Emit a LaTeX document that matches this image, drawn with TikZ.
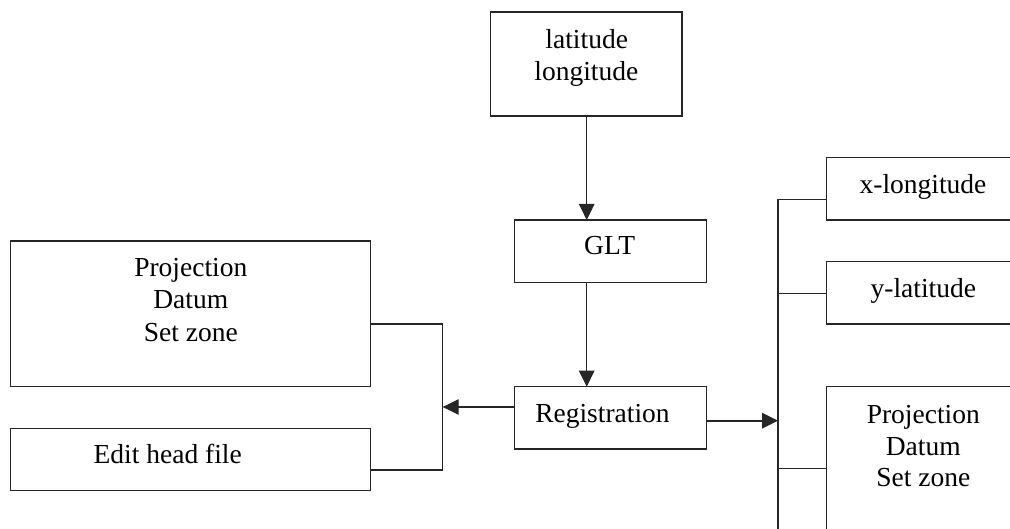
\documentclass[tikz,border=0pt]{standalone}
\usepackage{fontspec}
\setmainfont{Liberation Serif}
\usetikzlibrary{arrows.meta}

\begin{document}
\begin{tikzpicture}[x=1bp, y=-1bp,
  box/.style={draw=black!85, line width=1.1bp, rectangle, inner sep=0pt, outer sep=0pt},
  lbl/.style={inner sep=0pt, anchor=base, font=\fontsize{27.5bp}{33bp}\selectfont},
  link/.style={draw=black!85, line width=1.1bp},
  arr/.style={link, -{Triangle[length=16bp, width=15.5bp]}},
  busline/.style={draw=black!85, line width=1.5bp}]
  \useasboundingbox (0,0) rectangle (1010,529);
  \clip (0,0) rectangle (1010,529);

  % boxes
  \node[box, minimum width=191.3bp, minimum height=104bp]  (lat)   at (586.35,64) {};
  \node[box, minimum width=192.4bp, minimum height=62.3bp] (glt)   at (610.5,251.15) {};
  \node[box, minimum width=192.4bp, minimum height=62.3bp] (reg)   at (610.5,417.85) {};
  \node[box, minimum width=360bp,   minimum height=145.7bp] (projL) at (190.7,313.85) {};
  \node[box, minimum width=360bp,   minimum height=62.4bp] (edit)  at (190.7,459.5) {};
  \node[box, minimum width=193.3bp, minimum height=62.7bp] (xlon)  at (923.35,188.65) {};
  \node[box, minimum width=193.3bp, minimum height=62.3bp] (ylat)  at (923.35,292.85) {};
  \node[box, minimum width=193.3bp, minimum height=173.3bp] (projR) at (923.35,473.35) {};

  % labels
  \node[lbl] (latA) at (586.7,48.5) {latitude};
  \node[lbl] (latB) at (586.3,80.5) {longitude};
  \node[lbl] (gltT) at (609.7,255) {GLT};
  \node[lbl] (regT) at (602.5,422.7) {Registration};
  \node[lbl] (pLA) at (190.8,276.7) {Projection};
  \node[lbl] (pLB) at (190.8,309) {Datum};
  \node[lbl] (pLC) at (190.8,341.5) {Set zone};
  \node[lbl] (editT) at (167.7,463.3) {Edit head file};
  \node[lbl] (xlonT) at (923,193.3) {x-longitude};
  \node[lbl] (ylatT) at (923.3,297.3) {y-latitude};
  \node[lbl] (pRA) at (923.3,423.3) {Projection};
  \node[lbl] (pRB) at (923.3,455) {Datum};
  \node[lbl] (pRC) at (923.3,486.7) {Set zone};

  % junction points
  \coordinate (vx)  at (586.7,0);
  \coordinate (lin) at (442.7,407);
  \coordinate (lbt) at (442.7,324);
  \coordinate (lbb) at (442.7,470);
  \coordinate (rin) at (778,420.7);
  \coordinate (rbt) at (778,199.3);
  \coordinate (rbm) at (778,293.3);
  \coordinate (rbl) at (778,468.3);
  \coordinate (rbb) at (778,545);

  % main flow
  \draw[arr] (lat.south -| vx) -- (glt.north -| vx);
  \draw[arr] (glt.south -| vx) -- (reg.north -| vx);

  % left branch
  \draw[arr] (lin -| reg.west) -- (lin);
  \draw[link] (lbt -| projL.east) -- (lbt) -- (lbb) -- (lbb -| edit.east);

  % right branch
  \draw[arr, line width=2bp] (rin -| reg.east) -- (rin);
  \draw[link] (rbt -| xlon.west) -- (rbt) -- (rbb);
  \draw[busline] (rbm) -- (rbm -| ylat.west);
  \draw[busline] (rbl) -- (rbl -| projR.west);
\end{tikzpicture}
\end{document}
